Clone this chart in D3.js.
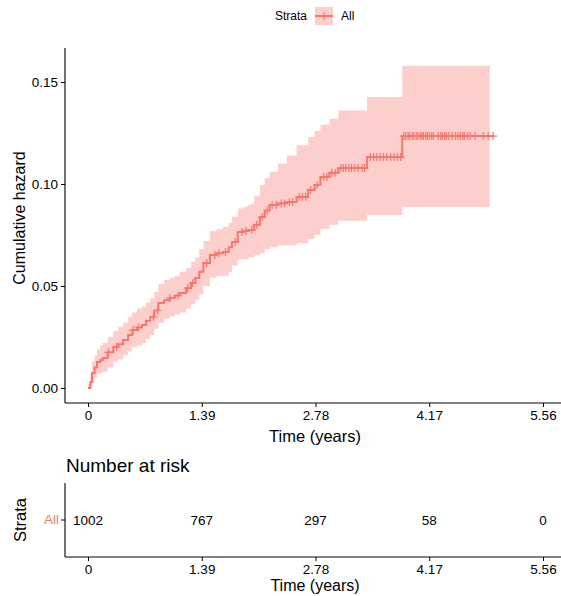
<!DOCTYPE html>
<html>
<head>
<meta charset="utf-8">
<script src="https://cdn.jsdelivr.net/npm/d3@7"></script>
<style>
  body { margin: 0; background: #fff; }
  svg text { font-family: "Liberation Sans", Arial, sans-serif; }
</style>
</head>
<body>
<div id="chart"></div>
<script>
// Cumulative hazard (step function)
const times = [0, 0.03, 0.05, 0.08, 0.11, 0.15, 0.18, 0.24, 0.31, 0.37, 0.43, 0.49, 0.54, 0.60, 0.66, 0.71,
  0.76, 0.81, 0.86, 0.93, 1.00, 1.06, 1.12, 1.20, 1.26, 1.31, 1.36, 1.41, 1.49, 1.57, 1.65, 1.72, 1.76,
  1.83, 1.90, 1.96, 2.03, 2.10, 2.16, 2.22, 2.32, 2.43, 2.55, 2.69, 2.77, 2.84, 2.95, 3.06, 3.41, 3.84];
const hazard = [0, 0.003, 0.0074, 0.010, 0.0127, 0.0137, 0.0147, 0.0175, 0.0201, 0.0215, 0.0235, 0.026,
  0.0284, 0.0297, 0.0309, 0.033, 0.0348, 0.038, 0.0417, 0.043, 0.0441, 0.0453, 0.0466, 0.049, 0.0515,
  0.0539, 0.057, 0.0613, 0.0652, 0.066, 0.0667, 0.069, 0.0716, 0.0765, 0.077, 0.0775, 0.080, 0.0838,
  0.087, 0.0897, 0.0905, 0.0912, 0.0936, 0.0971, 0.0995, 0.1034, 0.1055, 0.1078, 0.1132, 0.1235];
const upper = [0.002, 0.007, 0.013, 0.016, 0.019, 0.021, 0.022, 0.025, 0.028, 0.030, 0.032, 0.035, 0.037,
  0.039, 0.040, 0.042, 0.044, 0.047, 0.051, 0.053, 0.054, 0.055, 0.057, 0.059, 0.062, 0.064, 0.068, 0.072,
  0.077, 0.078, 0.079, 0.081, 0.084, 0.088, 0.089, 0.090, 0.094, 0.0995, 0.103, 0.106, 0.110, 0.114,
  0.119, 0.123, 0.126, 0.129, 0.132, 0.136, 0.1426, 0.158];
const lower = [0, 0.0008, 0.003, 0.005, 0.007, 0.0075, 0.008, 0.010, 0.013, 0.014, 0.016, 0.018, 0.020,
  0.021, 0.022, 0.024, 0.026, 0.029, 0.032, 0.034, 0.035, 0.036, 0.037, 0.039, 0.041, 0.043, 0.046, 0.050,
  0.054, 0.055, 0.055, 0.057, 0.060, 0.063, 0.063, 0.064, 0.065, 0.066, 0.068, 0.069, 0.070, 0.070,
  0.071, 0.073, 0.075, 0.078, 0.080, 0.082, 0.0848, 0.0887];
const lastTime = 4.95;
const bandEnd = 4.91;

// censoring marks (years)
const censorTimes = [0.25, 0.35, 0.55, 0.62, 0.80, 0.85, 1.0, 1.10, 1.22, 1.28, 1.45, 1.55, 1.60, 1.68,
  1.80, 1.88, 1.93, 2.00, 2.06, 2.13, 2.19, 2.25, 2.30, 2.36, 2.40, 2.46, 2.50, 2.58, 2.62, 2.66, 2.72,
  2.80, 2.88, 2.92, 2.98, 3.02, 3.09, 3.12, 3.15, 3.19, 3.22, 3.26, 3.30, 3.35, 3.38, 3.45, 3.49, 3.53,
  3.57, 3.61, 3.65, 3.70, 3.74, 3.78, 3.82, 3.86, 3.88, 3.91, 3.93, 3.96, 3.98, 4.01, 4.03, 4.06, 4.08,
  4.10, 4.13, 4.15, 4.17, 4.20, 4.22, 4.28, 4.31, 4.33, 4.36, 4.38, 4.41, 4.45, 4.49, 4.52, 4.55, 4.58,
  4.60, 4.64, 4.67, 4.73, 4.83, 4.89, 4.95];

const xTicks = [0, 1.39, 2.78, 4.17, 5.56];
const yTicks = [0, 0.05, 0.10, 0.15];
const riskStrata = ["All"];
const riskCounts = [1002, 767, 297, 58, 0];

const color = "#F8766D";
const width = 561;
const height = 596;

const svg = d3.select("#chart").append("svg")
  .attr("width", width)
  .attr("height", height);

const x = d3.scaleLinear().domain([0, 5.56]).range([88, 543]);
const y = d3.scaleLinear().domain([0, 0.15]).range([388, 82]);

const panelLeft = 65, panelTop = 48, panelBottom = 403;

const pts = times.map((t, i) => ({ t: t, h: hazard[i], lo: lower[i], hi: upper[i] }));
const last = pts[pts.length - 1];
const bandPts = pts.concat([{ t: bandEnd, h: last.h, lo: last.lo, hi: last.hi }]);
const linePts = pts.concat([{ t: lastTime, h: last.h }]);

const plot = svg.append("g");

plot.append("path")
  .datum(bandPts)
  .attr("fill", color)
  .attr("fill-opacity", 0.35)
  .attr("d", d3.area().curve(d3.curveStepAfter)
    .x(d => x(d.t)).y0(d => y(d.lo)).y1(d => y(d.hi)));

plot.append("path")
  .datum(linePts)
  .attr("fill", "none")
  .attr("stroke", color)
  .attr("stroke-width", 2)
  .attr("d", d3.line().curve(d3.curveStepAfter).x(d => x(d.t)).y(d => y(d.h)));

const bis = d3.bisector(d => d.t).right;
const hAt = t => pts[Math.max(0, bis(pts, t) - 1)].h;

plot.selectAll(".cens")
  .data(censorTimes)
  .enter()
  .append("path")
  .attr("class", "cens")
  .attr("stroke", color)
  .attr("stroke-width", 1.2)
  .attr("d", d => {
    const cx = x(d), cy = y(hAt(d));
    return `M${cx},${cy - 4}V${cy + 4}M${cx - 4},${cy}H${cx + 4}`;
  });

// axes
const yAxis = d3.axisLeft(y).tickValues(yTicks).tickFormat(d3.format(".2f")).tickSize(4).tickPadding(3);
const gy = svg.append("g").attr("transform", `translate(${panelLeft},0)`).call(yAxis);
gy.select(".domain").remove();
svg.append("line").attr("x1", panelLeft).attr("x2", panelLeft)
  .attr("y1", panelTop).attr("y2", panelBottom).attr("stroke", "#000").attr("stroke-width", 1.1);

const xAxis = d3.axisBottom(x).tickValues(xTicks).tickFormat(d => d === 0 ? "0" : d3.format(".2f")(d))
  .tickSize(4).tickPadding(3);
const gx = svg.append("g").attr("transform", `translate(0,${panelBottom})`).call(xAxis);
gx.select(".domain").remove();
svg.append("line").attr("x1", panelLeft).attr("x2", width)
  .attr("y1", panelBottom).attr("y2", panelBottom).attr("stroke", "#000").attr("stroke-width", 1.1);

[gx, gy].forEach(g => {
  g.selectAll("text").attr("font-size", 13.5).attr("fill", "#000")
    .attr("font-family", "Liberation Sans, Arial, sans-serif");
  g.selectAll("line").attr("stroke", "#000");
});

svg.append("text").attr("x", 315).attr("y", 442).attr("text-anchor", "middle")
  .attr("font-size", 16.5).text("Time (years)");
svg.append("text").attr("transform", "translate(25,218) rotate(-90)").attr("text-anchor", "middle")
  .attr("font-size", 16).text("Cumulative hazard");

// legend
svg.append("text").attr("x", 275).attr("y", 20).attr("font-size", 12).text("Strata");
svg.append("rect").attr("x", 315).attr("y", 7).attr("width", 18).attr("height", 18)
  .attr("fill", color).attr("fill-opacity", 0.35);
svg.append("path").attr("stroke", color).attr("stroke-width", 2)
  .attr("d", "M315,16H333");
svg.append("path").attr("stroke", color).attr("stroke-width", 1.2)
  .attr("d", "M324,12V20");
svg.append("text").attr("x", 341).attr("y", 20).attr("font-size", 12).text(riskStrata[0]);

// risk table
const rTop = 483, rBottom = 557;
svg.append("text").attr("x", 66).attr("y", 472).attr("font-size", 19).text("Number at risk");

const yr = d3.scaleBand().domain(riskStrata).range([rTop, rBottom]);
const gyr = svg.append("g").attr("transform", `translate(${panelLeft},0)`)
  .call(d3.axisLeft(yr).tickSize(4).tickPadding(2));
gyr.select(".domain").remove();
gyr.selectAll("text").attr("font-size", 13.5).attr("fill", color)
  .attr("font-family", "Liberation Sans, Arial, sans-serif");
gyr.selectAll("line").attr("stroke", "#000");
svg.append("line").attr("x1", panelLeft).attr("x2", panelLeft)
  .attr("y1", rTop).attr("y2", rBottom).attr("stroke", "#000").attr("stroke-width", 1.1);

svg.append("g").selectAll("text")
  .data(riskCounts)
  .enter()
  .append("text")
  .attr("x", (d, i) => x(xTicks[i]))
  .attr("y", yr(riskStrata[0]) + yr.bandwidth() / 2)
  .attr("dy", "0.35em")
  .attr("text-anchor", "middle")
  .attr("font-size", 13.5)
  .text(d => d);

const gxr = svg.append("g").attr("transform", `translate(0,${rBottom})`).call(xAxis);
gxr.select(".domain").remove();
gxr.selectAll("text").attr("font-size", 13.5).attr("fill", "#000")
  .attr("font-family", "Liberation Sans, Arial, sans-serif");
gxr.selectAll("line").attr("stroke", "#000");
svg.append("line").attr("x1", panelLeft).attr("x2", width)
  .attr("y1", rBottom).attr("y2", rBottom).attr("stroke", "#000").attr("stroke-width", 1.1);
svg.append("text").attr("x", 315).attr("y", 591).attr("text-anchor", "middle")
  .attr("font-size", 16).text("Time (years)");

svg.append("text").attr("transform", "translate(26,520) rotate(-90)").attr("text-anchor", "middle")
  .attr("font-size", 16.5).text("Strata");
</script>
</body>
</html>
